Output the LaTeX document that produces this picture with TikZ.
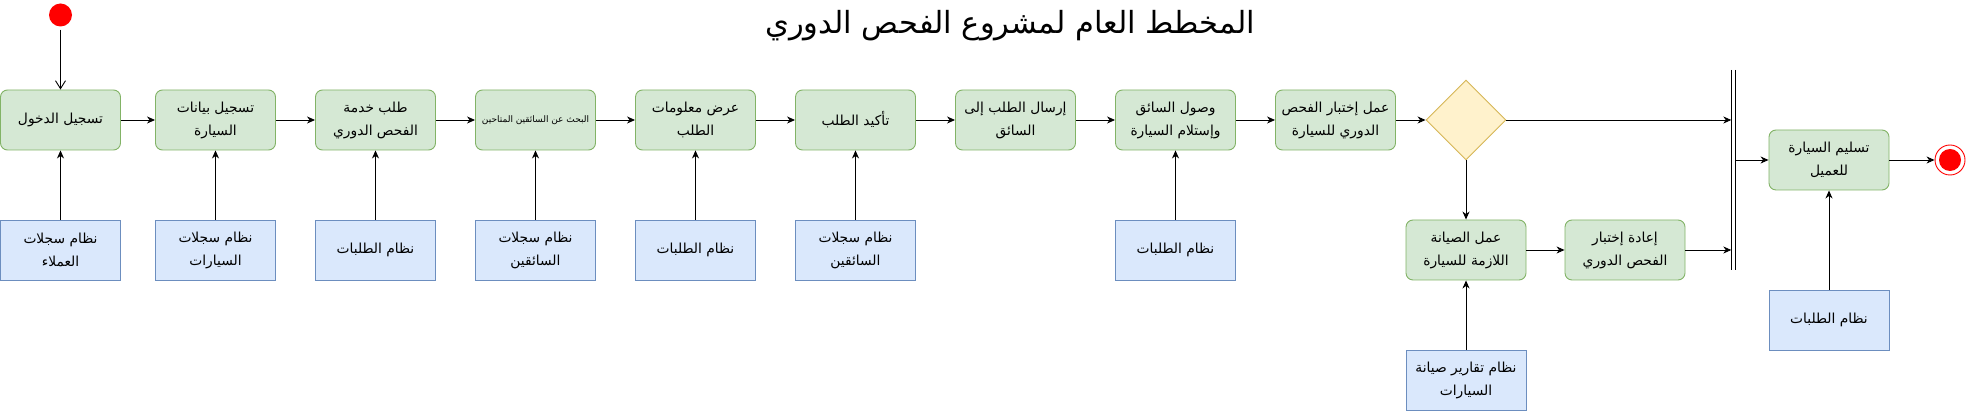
\documentclass[tikz,border=0pt]{standalone}
\usepackage{fontspec}
\setmainfont{DejaVu Sans}
\newfontfamily\arabicfont[Script=Arabic]{DejaVu Sans}
\TeXXeTstate=1
\usetikzlibrary{arrows.meta,shapes.geometric}
\newcommand{\artxt}[1]{{\arabicfont\beginR #1\endR}}
\definecolor{gfill}{HTML}{D5E8D4}
\definecolor{gline}{HTML}{82B366}
\definecolor{bfill}{HTML}{DAE8FC}
\definecolor{bline}{HTML}{6C8EBF}
\definecolor{yfill}{HTML}{FFF2CC}
\definecolor{yline}{HTML}{D6B656}
\definecolor{redc}{HTML}{FF0000}
\begin{document}
\begin{tikzpicture}[x=1pt,y=-1pt,
  act/.style={draw=gline, fill=gfill, rounded corners=7pt, minimum width=120pt, minimum height=60pt,
    align=center, font=\fontsize{13.8}{23}\selectfont, line width=0.9pt, inner sep=1pt},
  sys/.style={draw=bline, fill=bfill, minimum width=120pt, minimum height=60pt,
    align=center, font=\fontsize{13.8}{23}\selectfont, line width=0.9pt, inner sep=1pt},
  arr/.style={-{Stealth[length=8pt,width=7pt,inset=2.5pt]}, line width=0.9pt},
  ln/.style={line width=0.9pt}
]
\useasboundingbox (0,0) rectangle (1967,411);
\fill[white] (0,0) rectangle (1967,411);

\node (title) at (1010,26) {\fontsize{30.5}{34}\selectfont\artxt{المخطط العام لمشروع الفحص الدوري}};

\node[circle, fill=redc, minimum size=23pt, inner sep=0pt] (start) at (60.5,15) {};

\node[act] (g1) at (60.5,120) {\artxt{تسجيل الدخول}};
\node[act] (g2) at (215.5,120) {\artxt{تسجيل بيانات}\\\artxt{السيارة}};
\node[act] (g3) at (375.5,120) {\artxt{طلب خدمة}\\\artxt{الفحص الدوري}};
\node[act, font=\fontsize{9}{11}\selectfont] (g4) at (535.5,120) {\artxt{البحث عن السائقين المتاحين}};
\node[act] (g5) at (695.5,120) {\artxt{عرض معلومات}\\\artxt{الطلب}};
\node[act] (g6) at (855.5,120) {\artxt{تأكيد الطلب}};
\node[act] (g7) at (1015.5,120) {\artxt{إرسال الطلب إلى}\\\artxt{السائق}};
\node[act] (g8) at (1175.5,120) {\artxt{وصول السائق}\\\artxt{وإستلام السيارة}};
\node[act] (g9) at (1335.5,120) {\artxt{عمل إختبار الفحص}\\\artxt{الدوري للسيارة}};

\node[diamond, draw=yline, fill=yfill, minimum width=80pt, minimum height=80pt, inner sep=0pt, line width=0.9pt] (dec) at (1466,120) {};

\node[act] (g11) at (1466,250) {\artxt{عمل الصيانة}\\\artxt{اللازمة للسيارة}};
\node[act] (g12) at (1625,250) {\artxt{إعادة إختبار}\\\artxt{الفحص الدوري}};
\node[act] (g10) at (1829,160) {\artxt{تسليم السيارة}\\\artxt{للعميل}};

\node[minimum width=3.5pt, minimum height=200pt, inner sep=0pt] (bar) at (1733.25,170) {};
\draw[ln] (bar.north west) -- (bar.south west);
\draw[ln] (bar.north east) -- (bar.south east);

\node[circle, draw=redc, fill=white, minimum size=30pt, inner sep=0pt, line width=0.9pt] (endc) at (1950,160) {};
\node[circle, fill=redc, minimum size=22pt, inner sep=0pt] (endi) at (1950,160) {};

\node[sys] (b1) at (60.5,250) {\artxt{نظام سجلات}\\\artxt{العملاء}};
\node[sys] (b2) at (215.5,250) {\artxt{نظام سجلات}\\\artxt{السيارات}};
\node[sys] (b3) at (375.5,250) {\artxt{نظام الطلبات}};
\node[sys] (b4) at (535.5,250) {\artxt{نظام سجلات}\\\artxt{السائقين}};
\node[sys] (b5) at (695.5,250) {\artxt{نظام الطلبات}};
\node[sys] (b6) at (855.5,250) {\artxt{نظام سجلات}\\\artxt{السائقين}};
\node[sys] (b8) at (1175.5,250) {\artxt{نظام الطلبات}};
\node[sys] (b11) at (1466,380) {\artxt{نظام تقارير صيانة}\\\artxt{السيارات}};
\node[sys] (b10) at (1829,320) {\artxt{نظام الطلبات}};

\draw[ln, -{Straight Barb[length=8pt,width=10pt]}, shorten <=3pt] (start) -- (g1);

\foreach \a/\b in {g1/g2,g2/g3,g3/g4,g4/g5,g5/g6,g6/g7,g7/g8,g8/g9,g9/dec}
  \draw[arr] (\a) -- (\b);
\foreach \n in {1,2,3,4,5,6,8}
  \draw[arr] (b\n) -- (g\n);
\draw[arr] (dec.east) -- (bar.west |- dec.east);
\draw[arr] (dec) -- (g11);
\draw[arr] (g11) -- (g12);
\draw[arr] (g12.east) -- (bar.west |- g12.east);
\draw[arr] (bar.east |- g10.west) -- (g10.west);
\draw[arr] (b11) -- (g11);
\draw[arr] (b10) -- (g10);
\draw[arr] (g10) -- (endc);
\end{tikzpicture}
\end{document}
